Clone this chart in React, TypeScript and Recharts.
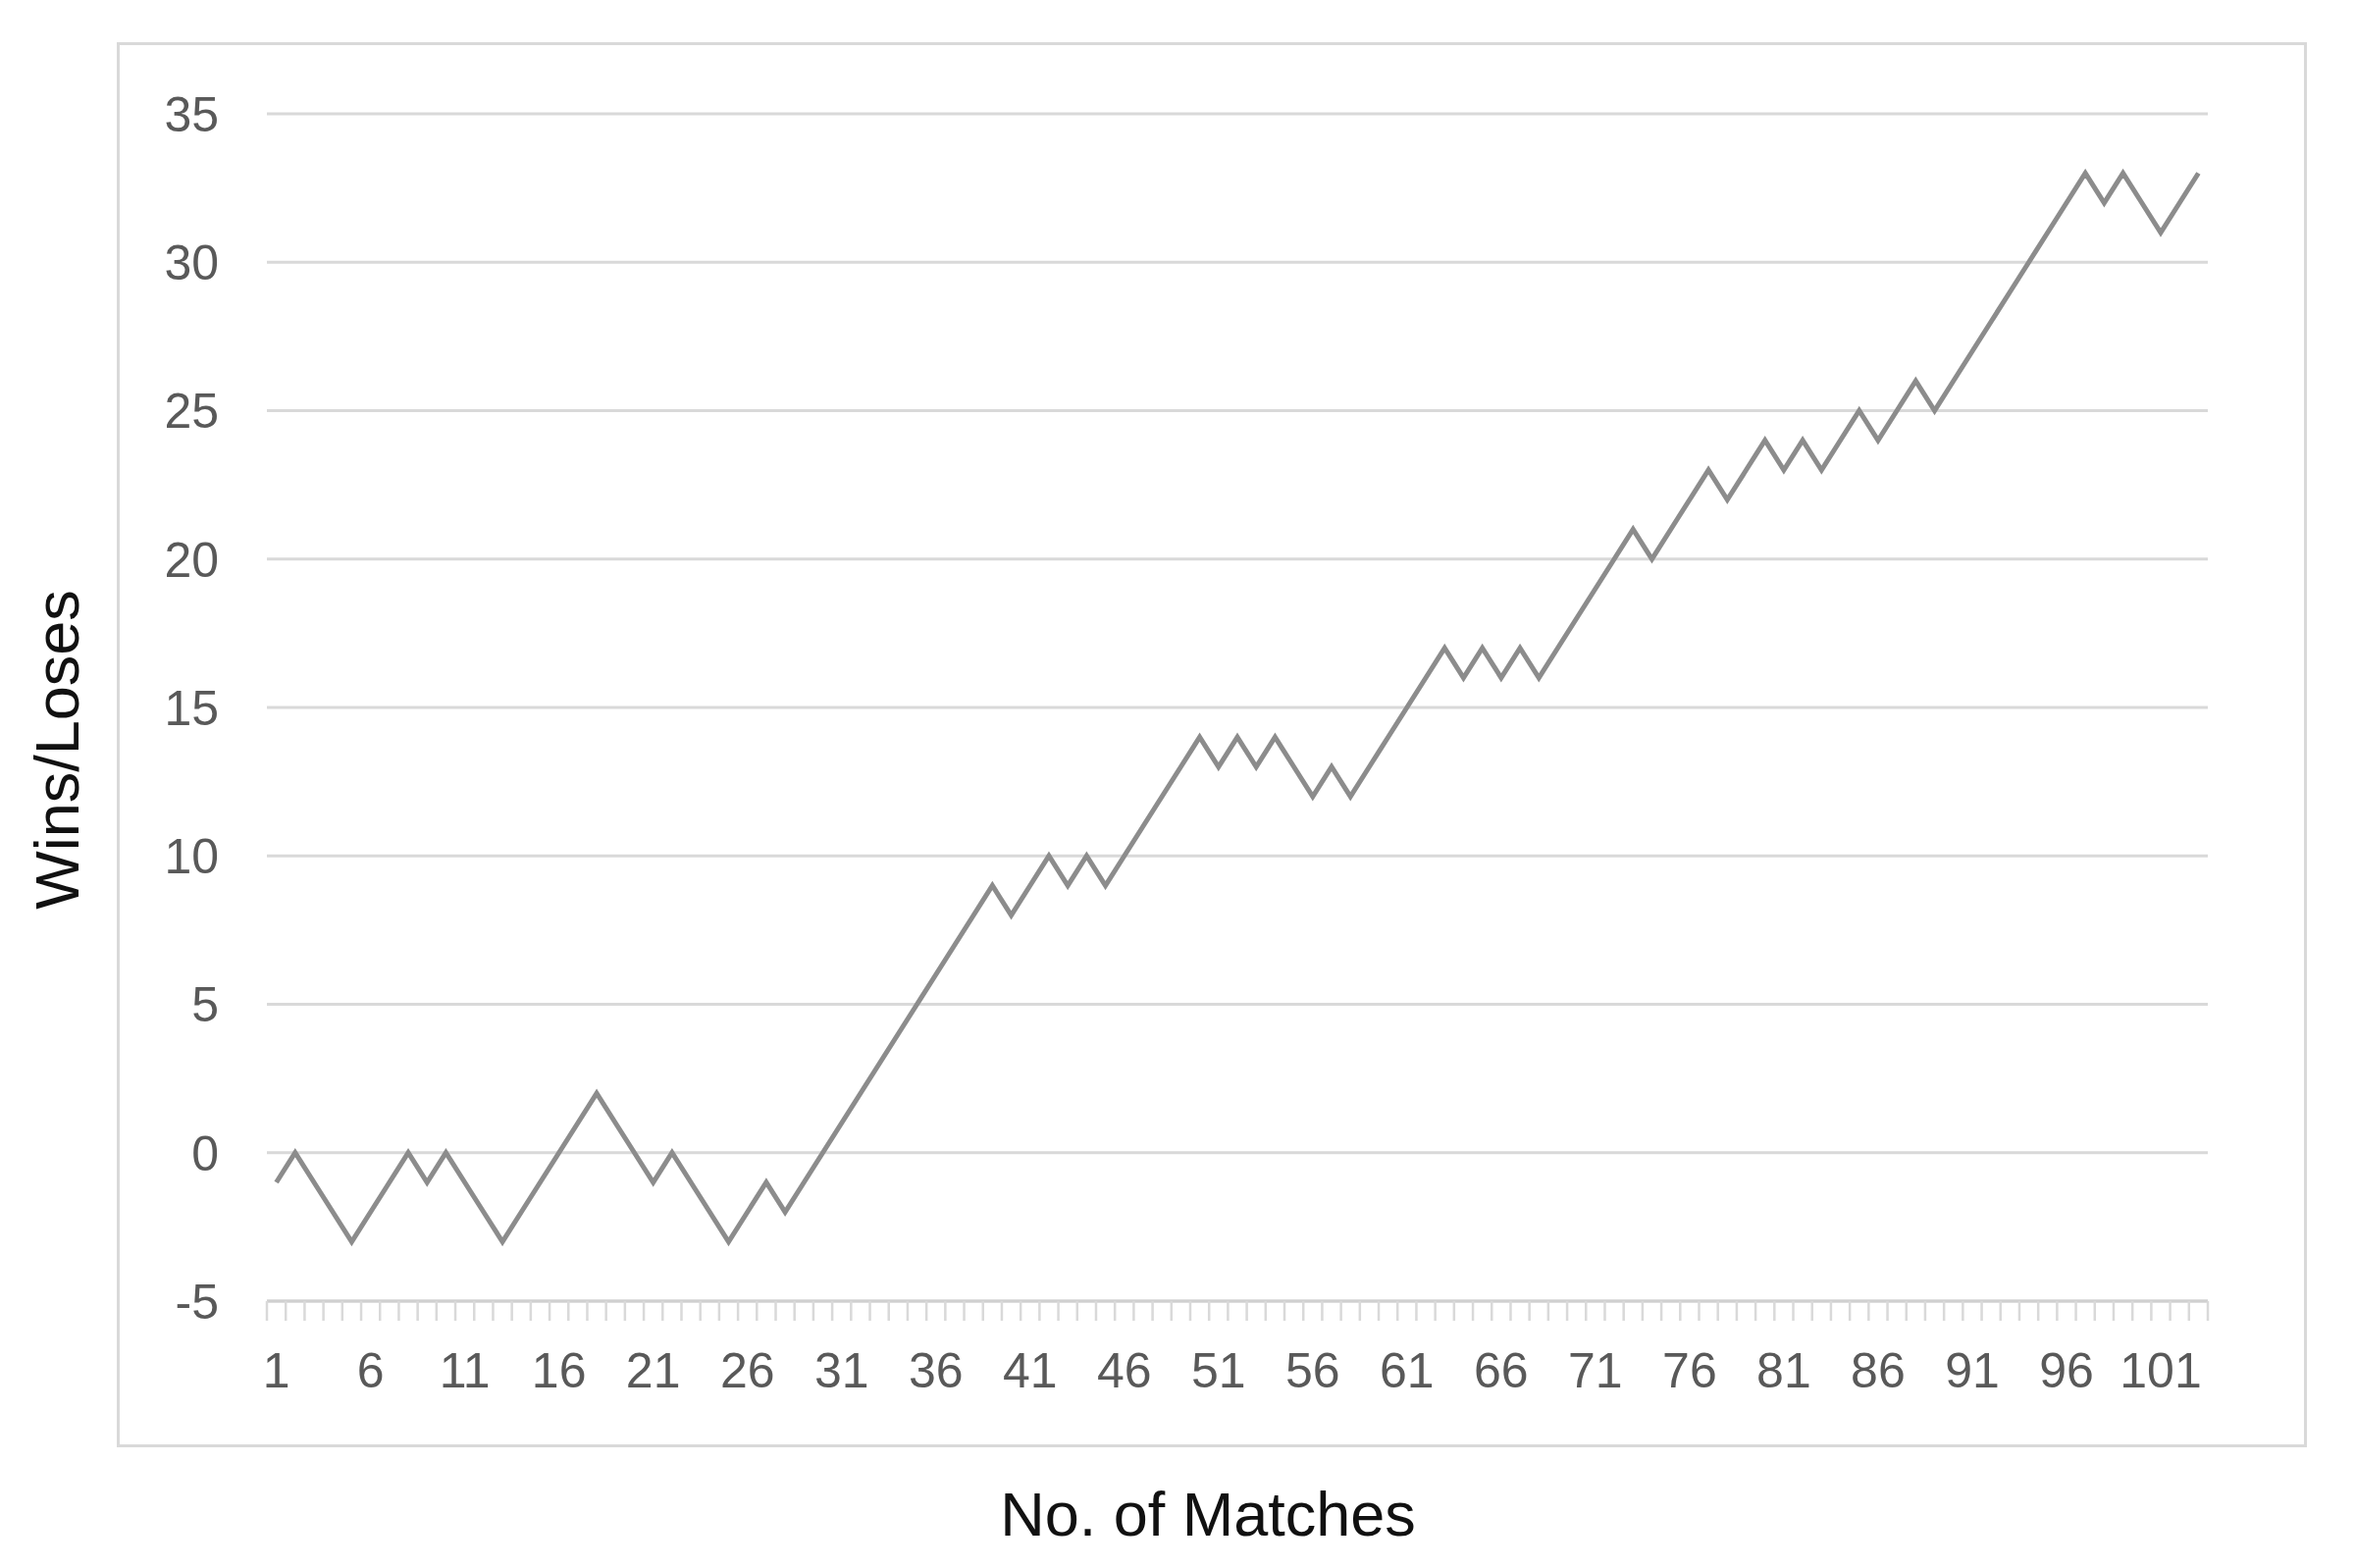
import { LineChart, Line, XAxis, YAxis, CartesianGrid } from "recharts";

// running total of wins minus losses after each match
const winLoss = [
  -1, 0, -1, -2, -3, -2, -1, 0, -1, 0,
  -1, -2, -3, -2, -1, 0, 1, 2, 1, 0,
  -1, 0, -1, -2, -3, -2, -1, -2, -1, 0,
  1, 2, 3, 4, 5, 6, 7, 8, 9, 8,
  9, 10, 9, 10, 9, 10, 11, 12, 13, 14,
  13, 14, 13, 14, 13, 12, 13, 12, 13, 14,
  15, 16, 17, 16, 17, 16, 17, 16, 17, 18,
  19, 20, 21, 20, 21, 22, 23, 22, 23, 24,
  23, 24, 23, 24, 25, 24, 25, 26, 25, 26,
  27, 28, 29, 30, 31, 32, 33, 32, 33, 32,
  31, 32, 33,
];

const matchLabels = [1, 6, 11, 16, 21, 26, 31, 36, 41, 46, 51, 56, 61, 66, 71, 76, 81, 86, 91, 96, 101];
const yTicks = [-5, 0, 5, 10, 15, 20, 25, 30, 35];

const data = winLoss.map((value, i) => ({ match: i + 1, value }));

// excel puts the category tick marks between the points
const boundaries = [...data.map((d) => d.match - 0.5), data.length + 0.5];
const xDomain = [0.5, data.length + 0.5];

const font = "'Liberation Sans', Arial, sans-serif";

export default function App() {
  return (
    <div
      style={{
        position: "absolute",
        left: 0,
        top: 0,
        width: 2400,
        height: 1598,
        background: "#fff",
        fontFamily: font,
      }}
    >
      <div
        style={{
          position: "absolute",
          left: 119,
          top: 43,
          width: 2232,
          height: 1432,
          border: "3px solid #d9d9d9",
          boxSizing: "border-box",
        }}
      />
      <div style={{ position: "absolute", left: 0, top: 0 }}>
        <LineChart
          width={2400}
          height={1598}
          data={data}
          margin={{ top: 116, right: 150, bottom: 150, left: 0 }}
        >
          <CartesianGrid
            xAxisId="b_lab"
            vertical={false}
            stroke="#d9d9d9"
            strokeWidth={3}
          />
          <XAxis
            xAxisId="b_lab"
            type="number"
            dataKey="match"
            domain={xDomain}
            ticks={matchLabels}
            interval={0}
            height={100}
            tickSize={0}
            tickMargin={30}
            axisLine={false}
            tickLine={false}
            tick={{ fontSize: 50, fill: "#595959", fontFamily: font }}
          />
          <XAxis
            xAxisId="a_marks"
            type="number"
            dataKey="match"
            domain={xDomain}
            ticks={boundaries}
            interval={0}
            height={22}
            tickSize={20}
            tick={() => null}
            tickLine={{ stroke: "#d9d9d9", strokeWidth: 2.5 }}
            axisLine={{ stroke: "#d0d0d0", strokeWidth: 3 }}
          />
          <YAxis
            domain={[-5, 35]}
            ticks={yTicks}
            interval={0}
            width={272}
            tickSize={0}
            tickMargin={49}
            axisLine={false}
            tickLine={false}
            tick={{ fontSize: 50, fill: "#595959", fontFamily: font }}
          />
          <Line
            xAxisId="b_lab"
            type="linear"
            dataKey="value"
            stroke="#8c8c8c"
            strokeWidth={5}
            dot={false}
            isAnimationActive={false}
          />
        </LineChart>
      </div>
      <div
        style={{
          position: "absolute",
          left: 1231,
          top: 1543,
          transform: "translate(-50%, -50%)",
          fontSize: 63,
          color: "#111",
          whiteSpace: "nowrap",
        }}
      >
        No. of Matches
      </div>
      <div
        style={{
          position: "absolute",
          left: 58,
          top: 764,
          transform: "translate(-50%, -50%) rotate(-90deg)",
          fontSize: 63,
          color: "#111",
          whiteSpace: "nowrap",
        }}
      >
        Wins/Loses
      </div>
    </div>
  );
}
